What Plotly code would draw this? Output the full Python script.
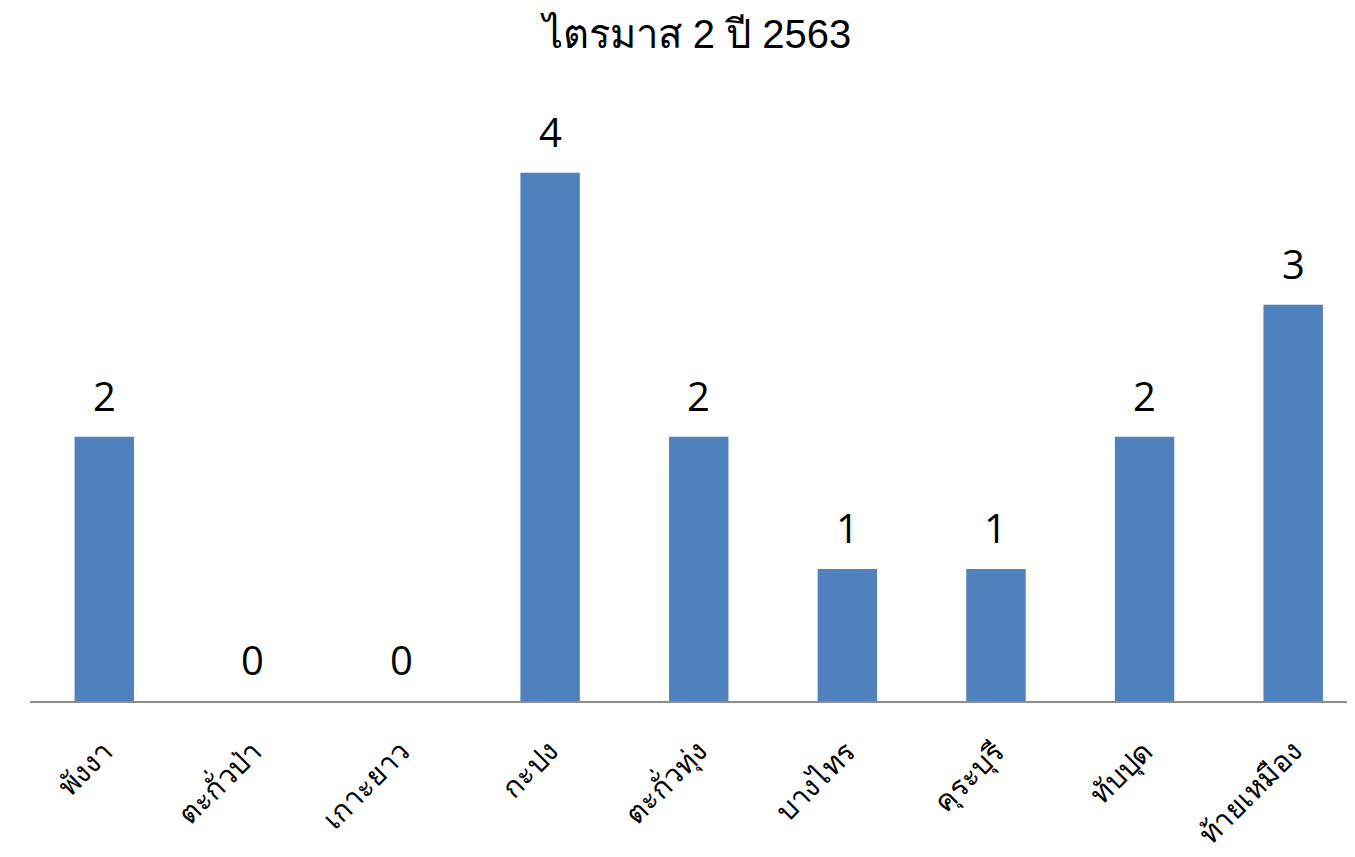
import plotly.graph_objects as go

categories = ["พังงา", "ตะกั่วป่า", "เกาะยาว", "กะปง", "ตะกั่วทุ่ง", "บางไทร", "คุระบุรี", "ทับปุด", "ท้ายเหมือง"]
values = [2, 0, 0, 4, 2, 1, 1, 2, 3]
title_text = "ไตรมาส 2 ปี 2563"

fig = go.Figure(go.Bar(
    x=categories, y=values,
    marker=dict(color="#4F81BD", line=dict(width=0)),
    cliponaxis=False,
))

for c, v in zip(categories, values):
    fig.add_annotation(x=c, y=v, text=str(v), showarrow=False,
                       yanchor="bottom", yshift=12,
                       font=dict(size=40, color="black", family="Open Sans"))

fig.update_layout(
    width=1347, height=849,
    paper_bgcolor="white", plot_bgcolor="white",
    margin=dict(l=22, r=0, t=92, b=156),
    bargap=0.6,
    showlegend=False,
    title=dict(text=title_text, x=0.5115, xanchor="center", y=0.969, yanchor="middle",
               font=dict(size=40, color="black", family="Liberation Sans")),
    xaxis=dict(showline=True, linecolor="#8c8c8c", linewidth=2, ticks="",
               range=[-0.5, 8.416],
               tickangle=-45, tickfont=dict(size=29, color="black", family="Noto Sans"),
               ticklabelstandoff=20, showgrid=False, zeroline=False, automargin=False),
    yaxis=dict(visible=False, range=[0, 4.55], showgrid=False, zeroline=False, automargin=False),
)

fig.write_html("out.html")
